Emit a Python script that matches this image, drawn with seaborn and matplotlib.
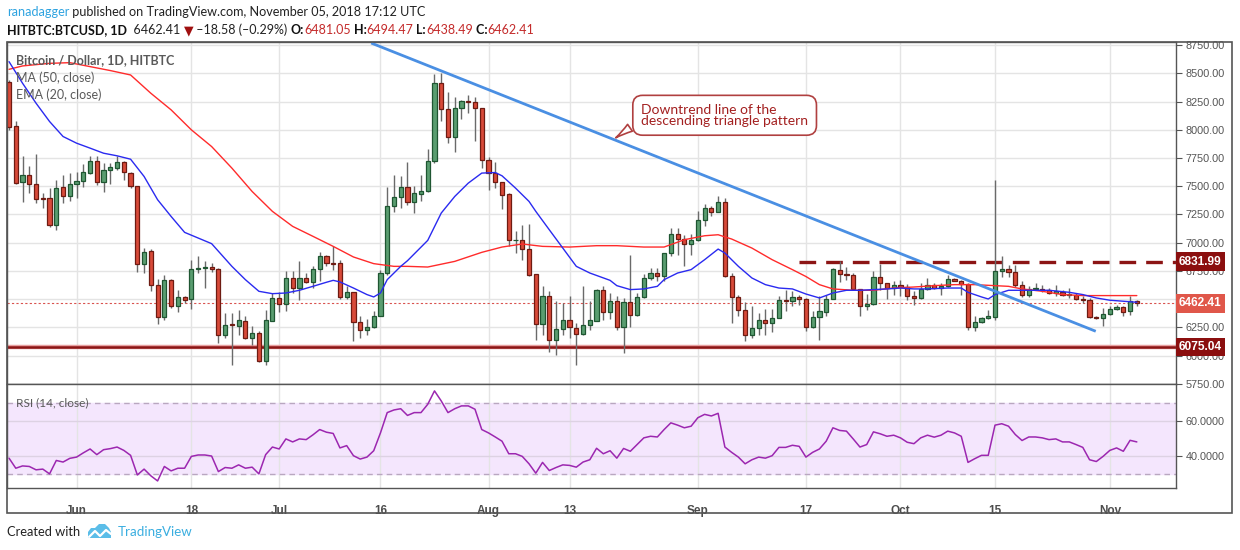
import matplotlib
matplotlib.use("Agg")
import matplotlib.pyplot as plt
import matplotlib.transforms as mtrans
from matplotlib.patches import Rectangle, Polygon
from matplotlib.lines import Line2D
import numpy as np
import pandas as pd
import seaborn as sns

sns.set_style("white")
plt.rcParams["font.family"] = ["Liberation Sans", "DejaVu Sans"]

# ---- data (HITBTC BTCUSD daily, 2018-05-22 .. 2018-11-05) ----
start = pd.Timestamp("2018-05-22")
dates = pd.date_range(start, "2018-11-05", freq="D")

opens = [8426, 8034, 7533, 7601, 7518, 7392, 7392, 7156, 7492, 7409,
         7518, 7542, 7621, 7725, 7533, 7645, 7657, 7713, 7616, 7504,
         6811, 6929, 6625, 6342, 6672, 6436, 6516, 6501, 6767, 6775,
         6781, 6767, 6183, 6271, 6265, 6304, 6156, 6201, 5950, 6310,
         6510, 6457, 6687, 6598, 6687, 6652, 6767, 6879, 6820, 6820,
         6516, 6563, 6295, 6224, 6254, 6354, 6731, 7327, 7403, 7492,
         7356, 7433, 7453, 7725, 8412, 8182, 7940, 8190, 8252, 8246,
         8190, 7733, 7616, 7533, 7430, 7020, 7020, 6943, 6722, 6280,
         6525, 6136, 6236, 6318, 6245, 6192, 6271, 6310, 6584, 6383,
         6481, 6254, 6472, 6360, 6516, 6687, 6731, 6702, 6908, 7076,
         7032, 6991, 7020, 7203, 7306, 7268, 7359, 6702, 6519, 6401,
         6180, 6245, 6318, 6289, 6333, 6495, 6481, 6519, 6501, 6254,
         6342, 6386, 6501, 6761, 6722, 6714, 6590, 6442, 6460, 6696,
         6643, 6598, 6622, 6604, 6531, 6510, 6590, 6622, 6598, 6619,
         6678, 6660, 6634, 6254, 6295, 6333, 6342, 6752, 6764, 6740,
         6622, 6534, 6590, 6590, 6578, 6554, 6563, 6534, 6534, 6504,
         6490, 6342, 6333, 6369, 6413, 6431, 6392, 6481.05]

highs = [8440, 8073, 7763, 7675, 7787, 7439, 7480, 7557, 7601, 7616,
         7622, 7695, 7763, 7763, 7704, 7704, 7763, 7719, 7630, 7504,
         6952, 6943, 6678, 6717, 6678, 6584, 6525, 6849, 6879, 6834,
         6820, 6775, 6377, 6377, 6407, 6354, 6260, 6215, 6407, 6554,
         6563, 6752, 6752, 6840, 6731, 6790, 6914, 6893, 6967, 6849,
         6613, 6563, 6354, 6324, 6398, 6761, 7489, 7601, 7586, 7713,
         7498, 7601, 7831, 8494, 8500, 8332, 8288, 8264, 8308, 8294,
         8190, 7757, 7713, 7533, 7439, 7106, 7159, 7165, 6722, 6613,
         6569, 6481, 6466, 6531, 6289, 6613, 6481, 6590, 6613, 6554,
         6525, 6510, 6893, 6554, 6722, 6775, 6775, 6908, 7129, 7129,
         7070, 7076, 7277, 7341, 7321, 7415, 7394, 6731, 6540, 6475,
         6437, 6377, 6413, 6413, 6525, 6584, 6569, 6540, 6510, 6392,
         6531, 6540, 6775, 6840, 6784, 6731, 6590, 6548, 6746, 6814,
         6643, 6657, 6666, 6637, 6569, 6643, 6687, 6643, 6643, 6717,
         6687, 6672, 6643, 6348, 6342, 6407, 7557, 6879, 6805, 6799,
         6657, 6613, 6643, 6628, 6598, 6622, 6578, 6598, 6554, 6525,
         6510, 6354, 6422, 6437, 6451, 6437, 6531, 6494.47]

lows = [8000, 7515, 7356, 7439, 7350, 7306, 7135, 7114, 7350, 7365,
        7395, 7489, 7610, 7507, 7445, 7518, 7645, 7557, 7483, 6737,
        6734, 6569, 6283, 6318, 6422, 6383, 6466, 6413, 6731, 6598,
        6737, 6112, 6157, 5920, 6180, 6150, 6097, 5941, 5920, 6304,
        6383, 6392, 6554, 6495, 6643, 6598, 6657, 6790, 6760, 6501,
        6501, 6127, 6156, 6186, 6245, 6348, 6716, 7268, 7306, 7330,
        7262, 7365, 7450, 7704, 8081, 7881, 7807, 8093, 8152, 7896,
        7660, 7468, 7483, 7297, 6973, 6908, 6849, 6702, 6142, 6186,
        6030, 6009, 6186, 6156, 5912, 6186, 6230, 6305, 6318, 6324,
        6230, 6024, 6254, 6348, 6510, 6672, 6657, 6657, 6879, 6893,
        6796, 6893, 7011, 7144, 7232, 7268, 6696, 6289, 6348, 6127,
        6156, 6186, 6186, 6207, 6330, 6392, 6436, 6451, 6215, 6242,
        6142, 6354, 6501, 6649, 6666, 6584, 6348, 6401, 6451, 6584,
        6501, 6540, 6525, 6490, 6451, 6501, 6584, 6590, 6540, 6604,
        6657, 6540, 6224, 6215, 6292, 6324, 6318, 6696, 6696, 6607,
        6519, 6519, 6578, 6560, 6548, 6531, 6525, 6510, 6495, 6466,
        6333, 6324, 6260, 6363, 6405, 6354, 6363, 6438.49]

closes = [8022, 7527, 7601, 7518, 7386, 7386, 7156, 7483, 7409, 7521,
          7548, 7624, 7725, 7533, 7645, 7666, 7713, 7630, 7504, 6814,
          6917, 6625, 6342, 6672, 6436, 6516, 6495, 6767, 6775, 6784,
          6767, 6186, 6271, 6268, 6318, 6156, 6201, 5950, 6318, 6510,
          6457, 6687, 6598, 6687, 6652, 6767, 6879, 6820, 6815, 6516,
          6563, 6295, 6224, 6254, 6354, 6731, 7327, 7403, 7492, 7356,
          7439, 7459, 7725, 8412, 8182, 7940, 8190, 8255, 8246, 8190,
          7733, 7616, 7533, 7421, 7020, 7025, 6943, 6716, 6280, 6525,
          6136, 6236, 6318, 6254, 6192, 6271, 6318, 6584, 6383, 6481,
          6254, 6472, 6360, 6516, 6687, 6731, 6702, 6908, 7076, 7032,
          6991, 7026, 7203, 7306, 7271, 7359, 6702, 6519, 6401, 6180,
          6245, 6318, 6289, 6333, 6495, 6487, 6519, 6501, 6254, 6342,
          6392, 6501, 6767, 6722, 6711, 6590, 6442, 6460, 6696, 6643,
          6598, 6622, 6604, 6525, 6510, 6590, 6622, 6598, 6619, 6678,
          6663, 6634, 6254, 6295, 6333, 6348, 6752, 6767, 6740, 6622,
          6534, 6590, 6593, 6578, 6554, 6569, 6534, 6537, 6501, 6492,
          6342, 6330, 6369, 6413, 6431, 6386, 6481, 6462.41]

rsi = [39.0, 33.3, 34.6, 34.3, 32.4, 32.8, 30.1, 37.7, 36.8, 38.9,
       39.6, 42.0, 44.2, 41.0, 43.8, 44.4, 45.3, 43.4, 40.6, 29.5,
       32.8, 29.0, 26.1, 34.3, 31.8, 33.3, 33.3, 40.0, 40.8, 40.8,
       40.2, 31.4, 33.7, 33.3, 35.2, 33.3, 33.9, 30.1, 41.0, 45.3,
       44.2, 49.9, 48.2, 49.9, 49.5, 52.2, 55.2, 53.7, 53.0, 44.8,
       46.1, 40.4, 38.5, 39.6, 43.2, 53.3, 64.8, 66.3, 67.0, 63.2,
       64.8, 64.8, 69.5, 77.1, 71.4, 64.8, 67.0, 68.6, 68.6, 66.7,
       55.2, 53.3, 51.0, 48.6, 41.5, 41.5, 40.0, 35.8, 30.5, 36.6,
       32.0, 33.7, 35.2, 34.9, 33.9, 36.8, 38.1, 44.6, 41.5, 43.2,
       39.0, 44.5, 42.9, 46.7, 50.5, 51.4, 51.0, 55.2, 59.0, 57.7,
       56.2, 57.1, 61.9, 63.8, 62.9, 64.4, 45.3, 42.3, 39.6, 35.8,
       38.1, 39.6, 39.0, 40.4, 45.1, 45.1, 46.3, 45.7, 39.6, 42.3,
       44.2, 48.6, 56.2, 54.7, 54.3, 49.9, 45.3, 46.7, 53.9, 52.8,
       51.4, 52.0, 50.5, 48.0, 47.2, 50.5, 52.0, 50.9, 52.0, 54.3,
       53.3, 51.4, 36.6, 38.7, 40.6, 40.6, 57.7, 58.5, 57.1, 52.4,
       49.0, 51.0, 51.0, 50.5, 49.5, 49.9, 48.2, 48.2, 46.7, 45.1,
       38.1, 37.1, 40.0, 43.4, 44.8, 42.9, 49.1, 48.2]

ema20_dates = ["2018-05-22", "2018-05-24", "2018-05-26", "2018-05-28", "2018-05-30",
               "2018-06-01", "2018-06-03", "2018-06-05", "2018-06-07", "2018-06-09",
               "2018-06-11", "2018-06-13", "2018-06-15", "2018-06-17", "2018-06-19",
               "2018-06-21", "2018-06-24", "2018-06-26", "2018-06-28", "2018-06-30",
               "2018-07-02", "2018-07-04", "2018-07-06", "2018-07-08", "2018-07-09",
               "2018-07-10", "2018-07-12", "2018-07-14", "2018-07-15", "2018-07-16",
               "2018-07-17", "2018-07-19", "2018-07-20", "2018-07-21", "2018-07-23",
               "2018-07-25", "2018-07-27", "2018-07-29", "2018-07-31", "2018-08-02",
               "2018-08-03", "2018-08-05", "2018-08-07", "2018-08-08", "2018-08-10",
               "2018-08-12", "2018-08-14", "2018-08-16", "2018-08-19", "2018-08-20",
               "2018-08-22", "2018-08-24", "2018-08-26", "2018-08-27", "2018-08-29",
               "2018-08-31", "2018-09-02", "2018-09-04", "2018-09-05", "2018-09-07",
               "2018-09-09", "2018-09-11", "2018-09-13", "2018-09-15", "2018-09-17",
               "2018-09-19", "2018-09-21", "2018-09-23", "2018-09-25", "2018-09-27",
               "2018-09-29", "2018-10-01", "2018-10-03", "2018-10-05", "2018-10-08",
               "2018-10-10", "2018-10-11", "2018-10-13", "2018-10-14", "2018-10-15",
               "2018-10-17", "2018-10-19", "2018-10-23", "2018-10-26", "2018-10-28",
               "2018-10-30", "2018-11-01", "2018-11-05"]
ema20_vals = [8603, 8412, 8235, 8073, 7940, 7881, 7837, 7792, 7769, 7739,
              7586, 7380, 7232, 7091, 7041, 6991, 6790, 6672, 6569, 6548,
              6554, 6578, 6613, 6649, 6666, 6652, 6598, 6540, 6519, 6554,
              6672, 6790, 6840, 6900, 7020, 7262, 7409, 7527, 7616, 7621,
              7592, 7483, 7365, 7277, 7114, 6952, 6790, 6731, 6666, 6619,
              6584, 6590, 6613, 6672, 6731, 6761, 6849, 6943, 6908, 6790,
              6687, 6628, 6598, 6590, 6545, 6510, 6554, 6578, 6578, 6584,
              6590, 6598, 6590, 6590, 6598, 6598, 6560, 6519, 6501, 6540,
              6578, 6578, 6578, 6560, 6540, 6510, 6490, 6472]

ma50_dates = ["2018-05-22", "2018-05-24", "2018-05-28", "2018-05-31", "2018-06-03",
              "2018-06-06", "2018-06-09", "2018-06-12", "2018-06-15", "2018-06-18",
              "2018-06-21", "2018-06-24", "2018-06-27", "2018-06-30", "2018-07-03",
              "2018-07-06", "2018-07-09", "2018-07-12", "2018-07-15", "2018-07-18",
              "2018-07-20", "2018-07-23", "2018-07-27", "2018-07-31", "2018-08-03",
              "2018-08-06", "2018-08-09", "2018-08-13", "2018-08-17", "2018-08-20",
              "2018-08-24", "2018-08-27", "2018-08-30", "2018-09-02", "2018-09-04",
              "2018-09-06", "2018-09-09", "2018-09-12", "2018-09-15", "2018-09-17",
              "2018-09-19", "2018-09-21", "2018-09-24", "2018-09-27", "2018-09-30",
              "2018-10-03", "2018-10-06", "2018-10-09", "2018-10-12", "2018-10-15",
              "2018-10-17", "2018-10-19", "2018-10-22", "2018-10-25", "2018-10-28",
              "2018-11-05"]
ma50_vals = [8535, 8565, 8588, 8594, 8559, 8524, 8485, 8323, 8176, 7999,
             7851, 7660, 7453, 7277, 7144, 7056, 6967, 6873, 6814, 6790,
             6790, 6784, 6834, 6914, 6961, 6988, 6967, 6961, 6973, 6973,
             6961, 6961, 7026, 7061, 7070, 7032, 6952, 6849, 6761, 6700,
             6628, 6590, 6578, 6578, 6598, 6607, 6619, 6628, 6628, 6619,
             6613, 6590, 6569, 6540, 6531, 6531]

support = 6075.04
resistance = 6831.99
last_price = 6462.41
resistance_from = "2018-09-16"
trend_dates = ["2018-07-14 15:00", "2018-10-29 22:00"]
trend_prices = [8768, 6215]

tick_dates = ["2018-06-01", "2018-06-18", "2018-07-01", "2018-07-16", "2018-08-01",
              "2018-08-13", "2018-09-01", "2018-09-17", "2018-10-01", "2018-10-15",
              "2018-11-01"]
tick_labels = ["Jun", "18", "Jul", "16", "Aug", "13", "Sep", "17", "Oct", "15", "Nov"]


def day_index(d):
    return (pd.to_datetime(d) - start) / pd.Timedelta(days=1)


df = pd.DataFrame({"date": dates, "open": opens, "high": highs,
                   "low": lows, "close": closes, "rsi": rsi})
df["x"] = day_index(df["date"])

GREEN, GREEN_EDGE = "#5a9d70", "#1f5632"
RED, RED_EDGE = "#d84a39", "#6e1b12"
DARKRED = "#8c1515"
GRID = "#e4e4e4"
FRAME = "#555555"

W, H = 1240, 550
fig = plt.figure(figsize=(W / 100, H / 100), dpi=100)


def fx(px):
    return px / W


def fy(py):
    return 1 - py / H


ax = fig.add_axes([fx(7), fy(384), (1176 - 7) / W, (384 - 42) / H])
ax2 = fig.add_axes([fx(7), fy(488), (1176 - 7) / W, (488 - 384) / H], sharex=ax)

# ---- candles ----
up = df["close"] >= df["open"]
body_lo = df[["open", "close"]].min(axis=1)
body_h = (df["close"] - df["open"]).abs().clip(lower=7)
ax.vlines(df["x"], df["low"], df["high"], color="#6a6a6a", lw=1, zorder=3)
ax.bar(df["x"][up], body_h[up], bottom=body_lo[up], width=0.62,
       color=GREEN, edgecolor=GREEN_EDGE, linewidth=0.9, zorder=4)
ax.bar(df["x"][~up], body_h[~up], bottom=body_lo[~up], width=0.62,
       color=RED, edgecolor=RED_EDGE, linewidth=0.9, zorder=4)

# ---- moving averages ----
sns.lineplot(x=day_index(ma50_dates), y=ma50_vals, ax=ax, color="#ff2b2b", lw=1, zorder=5)
sns.lineplot(x=day_index(ema20_dates), y=ema20_vals, ax=ax, color="#2a2af0", lw=1, zorder=5)

# ---- levels and trend line ----
xmin, xmax = -0.3, 172.8
ax.axhline(support, color="#e8a0a0", lw=3.2, zorder=2)
ax.axhline(support, color=DARKRED, lw=1.8, zorder=2)
ax.hlines(resistance, day_index(resistance_from), xmax, colors=DARKRED, lw=2.4,
          linestyles=(0, (5, 3)), zorder=2)
ax.axhline(last_price, color="#d9534f", lw=0.8, ls=(0, (2, 2)), zorder=2)
tx = day_index(trend_dates)
ax.plot(tx, trend_prices, color="#4a8fe3", lw=2, zorder=6, solid_capstyle="butt")

# callout
tip_x = 89.5
tip_y = np.interp(tip_x, tx, trend_prices)
ax.annotate("Downtrend line of the\ndescending triangle pattern",
            xy=(tip_x, tip_y), xytext=(93.6, 8128), textcoords="data",
            ha="left", va="center", fontsize=10, color="#a32020",
            family=["Lato", "DejaVu Sans"], linespacing=0.92,
            bbox=dict(boxstyle="round,pad=0.6,rounding_size=0.7", fc="white",
                      ec="#b04040", lw=1.2),
            arrowprops=dict(arrowstyle="wedge,tail_width=0.6,shrink_factor=0.4",
                            fc="white", ec="#b04040", lw=1.2, relpos=(0, 0.3)),
            zorder=8)

ax.set_xlim(xmin, xmax)
ax.set_ylim(5748, 8777)
yt = np.arange(5750, 8751, 250)
ax.set_yticks(yt)
# the 6500 label sits fully under the last-price box, as in the reference
ax.set_yticklabels(["" if v == 6500 else f"{v:.2f}" for v in yt])
ax.yaxis.tick_right()
ax.tick_params(axis="y", length=4, width=0.8, color=FRAME, labelcolor="#555555",
               labelsize=7.8, pad=3)
ax.tick_params(axis="x", length=0, labelbottom=False)
ax.grid(True, color=GRID, lw=1)
ax.set_axisbelow(True)
for s in ax.spines.values():
    s.set_color(FRAME)
    s.set_linewidth(1)

blend = mtrans.blended_transform_factory(ax.transAxes, ax.transData)
for val, bg in [(resistance, "#8b0f0f"), (last_price, "#e0574a"), (support, "#8b0f0f")]:
    ax.text(1.0025, val, f"{val:.2f}", transform=blend, ha="left", va="center",
            color="white", fontsize=8.6, fontweight="bold", clip_on=False, zorder=10,
            bbox=dict(boxstyle="square,pad=0.28", fc=bg, ec="none"))

# ---- RSI panel ----
ax2.axhspan(30, 70, color="#f4e6fd", zorder=0)
for lvl in (30, 70):
    ax2.axhline(lvl, color="#b9a7c0", lw=1, ls=(0, (4, 3)), zorder=1)
sns.lineplot(data=df, x="x", y="rsi", ax=ax2, color="#9c27b0", lw=1.1, zorder=3)
ax2.set_ylim(22.1, 81)
ax2.set_yticks([40, 60])
ax2.set_yticklabels(["40.0000", "60.0000"])
ax2.yaxis.tick_right()
ax2.tick_params(axis="y", length=4, width=0.8, color=FRAME, labelcolor="#555555",
                labelsize=7.8, pad=3)
ax2.set_xticks(day_index(tick_dates))
ax2.set_xticklabels(tick_labels)
ax2.tick_params(axis="x", length=5, color="#cfcfcf", labelcolor="#4d4d4d",
                labelsize=8.5, pad=7)
for lbl in ax2.get_xticklabels():
    lbl.set_fontweight("bold")
ax2.grid(True, axis="x", color=GRID, lw=1)
ax2.grid(True, axis="y", color="#ddd2e3", lw=1)
ax2.set_axisbelow(True)
ax2.set_xlabel("")
ax2.set_ylabel("")
ax.set_xlabel("")
ax.set_ylabel("")
for s in ax2.spines.values():
    s.set_color(FRAME)
    s.set_linewidth(1)

# ---- texts ----
LATO = ["Lato", "DejaVu Sans"]
fig.text(fx(16), fy(60), "Bitcoin / Dollar, 1D, HITBTC", fontsize=9, color="#5a5a5a",
         fontweight="bold", family=LATO, va="center")
fig.text(fx(16), fy(78), "MA (50, close)", fontsize=9, color="#5a5a5a", family=LATO, va="center")
fig.text(fx(16), fy(95), "EMA (20, close)", fontsize=9, color="#5a5a5a", family=LATO, va="center")
fig.text(fx(16), fy(403), "RSI (14, close)", fontsize=8.6, color="#5a5a5a", family=LATO, va="center")

fig.add_artist(Rectangle((fx(7), fy(513)), (1232 - 7) / W, (513 - 42) / H,
                         transform=fig.transFigure, fill=False, ec=FRAME, lw=1.2))

renderer = fig.canvas.get_renderer()


def text_line(x_px, y_px, pieces, size):
    x = x_px
    for s, color, weight in pieces:
        t = fig.text(fx(x), fy(y_px), s, color=color, fontsize=size, fontweight=weight,
                     family=LATO, va="center", ha="left")
        x += t.get_window_extent(renderer).width


text_line(7, 12, [("ranadagger", "#2ea3e0", "normal"),
                  ("\u00a0published on TradingView.com, November 05, 2018 17:12 UTC", "#222222", "normal")], 9.1)
RED_T = "#c42b2b"
text_line(7, 30, [("HITBTC:BTCUSD, 1D", "#111111", "bold"),
                  ("\u00a0\u00a06462.41\u00a0", "#222222", "normal"),
                  ("\u25bc", "#a01010", "normal"),
                  ("\u00a0\u201318.58 (\u20130.29%)\u00a0", "#222222", "normal"),
                  ("O:", "#111111", "bold"), ("6481.05", RED_T, "normal"),
                  ("\u00a0H:", "#111111", "bold"), ("6494.47", RED_T, "normal"),
                  ("\u00a0L:", "#111111", "bold"), ("6438.49", RED_T, "normal"),
                  ("\u00a0C:", "#111111", "bold"), ("6462.41", RED_T, "normal")], 9.0)

fig.text(fx(7), fy(532), "Created with", fontsize=9.3, color="#222222", family=LATO, va="center")
cloud = [(88, 538), (88, 532), (91, 528), (95, 528), (99, 524), (105, 524), (109, 528),
         (111, 532), (111, 538)]
fig.add_artist(Polygon([(fx(a), fy(b)) for a, b in cloud], closed=True,
                       transform=fig.transFigure, fc="#5bbde8", ec="none"))
zig = [(89, 537), (95, 531), (100, 536), (106, 530), (111, 534)]
fig.add_artist(Line2D([fx(a) for a, b in zig], [fy(b) for a, b in zig],
                      transform=fig.transFigure, color="white", lw=1.6))
fig.text(fx(118), fy(532), "TradingView", fontsize=9.6, color="#3aaee0", family=LATO, va="center")

fig.savefig("out.png", dpi=100)
